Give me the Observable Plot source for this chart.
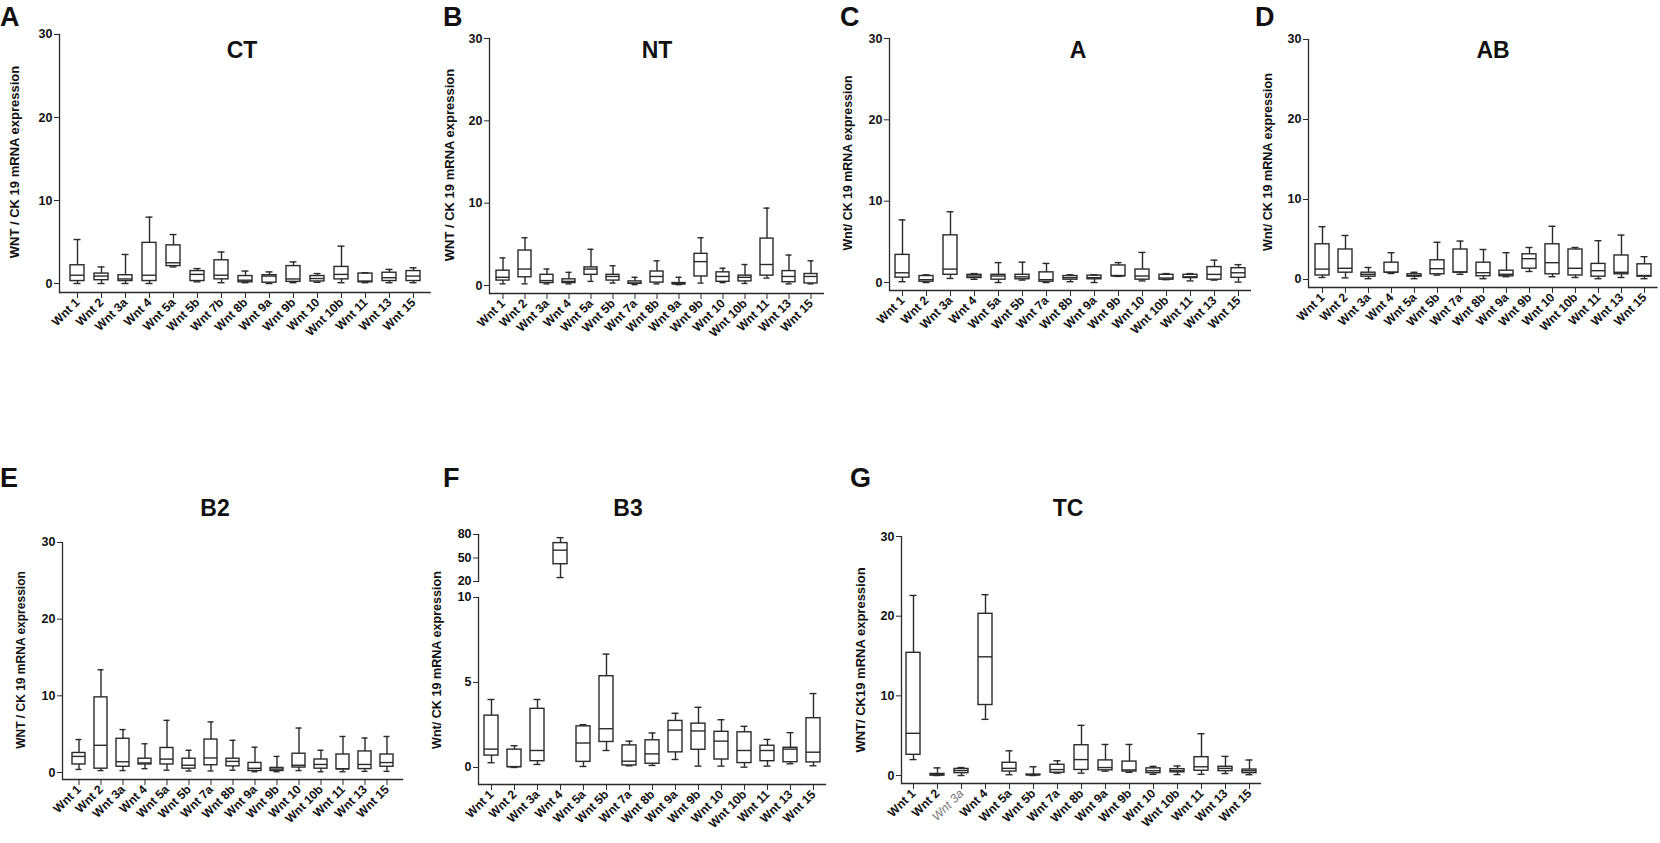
<!DOCTYPE html>
<html><head><meta charset="utf-8">
<script src="https://cdn.jsdelivr.net/npm/d3@7"></script>
<script src="https://cdn.jsdelivr.net/npm/@observablehq/plot@0.6"></script>
<style>
body{margin:0;background:#fff;}
#fig{position:relative;width:1660px;height:843px;overflow:hidden;font-family:"Liberation Sans",Arial,sans-serif;color:#111;}
.letter{position:absolute;font-weight:bold;font-size:27px;line-height:1;}
.title{position:absolute;font-weight:bold;font-size:23px;line-height:1;transform:translate(-50%,-50%);white-space:nowrap;}
.ylab{position:absolute;font-weight:bold;line-height:1;white-space:nowrap;transform:translate(-50%,-50%) rotate(-90deg);}
</style></head><body><div id="fig"></div>
<script>
// ---- data ----
const catsCT = ["Wnt 1","Wnt 2","Wnt 3a","Wnt 4","Wnt 5a","Wnt 5b","Wnt 7b","Wnt 8b","Wnt 9a","Wnt 9b","Wnt 10","Wnt 10b","Wnt 11","Wnt 13","Wnt 15"];
const catsOther = ["Wnt 1","Wnt 2","Wnt 3a","Wnt 4","Wnt 5a","Wnt 5b","Wnt 7a","Wnt 8b","Wnt 9a","Wnt 9b","Wnt 10","Wnt 10b","Wnt 11","Wnt 13","Wnt 15"];
const yTicks = [0,10,20,30];
const yTicksB3Top = [20,50,80];
const yTicksB3Bottom = [0,5,10];
// each row: [min, q1, median, q3, max]
const ctStats = [[0,0.3,1.0,2.2,5.3],[0,0.4,0.9,1.2,2.0],[0,0.3,0.55,1.0,3.5],[0,0.3,1.0,4.9,8.0],[2.0,2.1,2.5,4.6,5.9],[0.2,0.3,1.1,1.5,1.8],[0.1,0.5,1.0,2.8,3.8],[0.1,0.15,0.4,0.9,1.5],[0,0.1,0.9,1.0,1.4],[0.1,0.2,0.55,2.1,2.6],[0.15,0.25,0.6,0.9,1.2],[0.1,0.5,1.1,2.0,4.5],[0.1,0.15,0.3,1.2,1.3],[0.1,0.3,0.7,1.3,1.7],[0.1,0.3,0.9,1.5,1.9]];
const ntStats = [[0.2,0.6,1.0,1.8,3.35],[0.2,1.0,2.0,4.25,5.8],[0.2,0.3,0.6,1.3,2.0],[0.2,0.3,0.5,0.75,1.6],[0.5,1.3,2.0,2.2,4.4],[0.3,0.6,1.1,1.3,2.4],[0.1,0.2,0.3,0.5,1.0],[0.2,0.35,1.1,1.7,3.0],[0.1,0.15,0.2,0.3,1.0],[0.3,1.1,2.9,3.85,5.8],[0.35,0.45,1.1,1.6,2.1],[0.25,0.5,1.0,1.2,2.55],[0.9,1.2,2.55,5.7,9.4],[0.2,0.4,1.1,1.75,3.7],[0.2,0.25,1.1,1.4,3.0]];
const aStats = [[0.1,0.6,1.2,3.4,7.7],[0,0.1,0.35,0.8,0.95],[0.5,0.95,1.65,5.8,8.7],[0.4,0.55,0.8,0.95,1.1],[0,0.35,0.8,0.95,2.45],[0.3,0.4,0.7,0.95,2.5],[0,0.1,0.35,1.25,2.35],[0.1,0.35,0.6,0.8,0.95],[0,0.4,0.6,0.85,0.95],[0.75,0.8,0.8,2.1,2.45],[0.2,0.35,0.8,1.6,3.7],[0.35,0.35,0.55,0.95,1.1],[0.2,0.55,0.7,0.95,1.1],[0.3,0.35,1.0,1.9,2.75],[0.05,0.58,1.2,1.76,2.2]];
const abStats = [[0.25,0.5,1.3,4.4,6.6],[0.2,0.85,1.4,3.75,5.5],[0.1,0.35,0.65,0.85,1.5],[0.75,0.85,0.9,2.1,3.35],[0.1,0.35,0.5,0.65,0.9],[0.55,0.65,1.35,2.4,4.65],[0.65,0.85,0.95,3.75,4.8],[0.1,0.4,0.85,2.1,3.75],[0.35,0.4,0.65,1.1,3.35],[1.0,1.35,2.6,3.15,4.0],[0.35,0.65,2.1,4.4,6.65],[0.25,0.5,1.4,3.75,4.0],[0.1,0.35,1.1,1.95,4.85],[0.25,0.65,0.9,3.0,5.55],[0.1,0.35,0.5,1.9,2.85]];
const b2Stats = [[0.4,1.05,2.1,2.55,4.3],[0.25,0.5,3.55,9.8,13.4],[0.25,0.75,1.4,4.4,5.6],[0.5,1.05,1.25,1.8,3.75],[0.3,1.05,1.75,3.2,6.8],[0.2,0.5,0.95,1.8,2.9],[0.2,0.95,1.9,4.3,6.6],[0.3,0.8,1.45,1.8,4.2],[0.1,0.2,0.55,1.25,3.3],[0.1,0.2,0.45,0.6,2.1],[0.25,0.65,0.95,2.45,5.8],[0.1,0.5,1.05,1.7,2.9],[0.1,0.4,0.5,2.35,4.7],[0.15,0.45,1.05,2.75,4.5],[0.15,0.75,1.3,2.35,4.7]];
const b3Stats = [[0.28,0.7,1.08,3.05,4.0],[0,0.02,0.05,1.05,1.28],[0.18,0.37,1.0,3.45,4.0],[25,42,60,69,76],[0.06,0.33,1.44,2.42,2.52],[1.0,1.5,2.28,5.37,6.67],[0.1,0.12,0.37,1.3,1.55],[0.12,0.22,0.8,1.6,2.03],[0.47,0.89,2.2,2.74,3.19],[0.08,1.04,2.15,2.58,3.54],[0.08,0.47,1.55,2.1,2.81],[0.02,0.26,1.0,2.07,2.42],[0.08,0.37,1.0,1.28,1.65],[0.22,0.31,1.08,1.16,2.05],[0.1,0.3,0.9,2.9,4.35]];
const tcStats = [[2.0,2.6,5.3,15.4,22.6],[0,0,0.1,0.2,0.96],[0,0.3,0.63,0.83,1.0],[7.05,8.85,14.9,20.3,22.7],[0.1,0.5,0.9,1.6,3.1],[0,0.04,0.08,0.12,1.1],[0.3,0.35,0.75,1.35,1.85],[0.3,0.7,2.0,3.8,6.3],[0.55,0.65,1.0,1.9,3.9],[0.4,0.5,0.7,1.75,3.9],[0.15,0.3,0.6,0.9,1.15],[0.12,0.4,0.6,0.8,1.2],[0.15,0.6,1.1,2.3,5.25],[0.25,0.55,0.9,1.1,2.4],[0.1,0.3,0.6,0.75,1.95]];

// ---- layout (page pixels) ----
const panels = [
  {letter:"A", lx:0,   ly:4,   title:"CT", tx:242,  ty:50,  cats:catsCT,    stats:ctStats, ylabel:"WNT / CK 19 mRNA expression", ylx:14,  yly:162, yfs:13,
   axisPx:59,   step:24.7, off:13, segs:[{topPx:34, basePx:292, dom:[-1.08,30], ticks:yTicks, x:true}]},
  {letter:"B", lx:443, ly:4,   title:"NT", tx:657,  ty:50,  cats:catsOther, stats:ntStats, ylabel:"WNT / CK 19 mRNA expression", ylx:449, yly:165, yfs:13,
   axisPx:489,  step:22.5, off:10, segs:[{topPx:38, basePx:293, dom:[-0.97,30], ticks:yTicks, x:true}]},
  {letter:"C", lx:840, ly:4,   title:"A",  tx:1078, ty:50,  cats:catsOther, stats:aStats,  ylabel:"Wnt/ CK 19 mRNA expression",  ylx:848, yly:163, yfs:12.4,
   axisPx:889,  step:24,   off:13, segs:[{topPx:38, basePx:290, dom:[-0.98,30], ticks:yTicks, x:true}]},
  {letter:"D", lx:1255,ly:4,   title:"AB", tx:1493, ty:50,  cats:catsOther, stats:abStats, ylabel:"Wnt/ CK 19 mRNA expression",  ylx:1268,yly:162, yfs:12.6,
   axisPx:1308, step:23.4, off:11, segs:[{topPx:39, basePx:287, dom:[-1,30], ticks:yTicks, x:true}]},
  {letter:"E", lx:0,   ly:465, title:"B2", tx:215,  ty:508, cats:catsOther, stats:b2Stats, ylabel:"WNT / CK 19 mRNA expression", ylx:21,  yly:660, yfs:12,
   axisPx:62,   step:22.8, off:11, segs:[{topPx:542, basePx:779, dom:[-0.91,30], ticks:yTicks, x:true}]},
  {letter:"F", lx:443, ly:465, title:"B3", tx:628,  ty:508, cats:catsOther, stats:b3Stats, ylabel:"Wnt/ CK 19 mRNA expression",  ylx:437, yly:660, yfs:12.6,
   axisPx:478,  step:23.3, off:11, segs:[{topPx:534, basePx:581, dom:[20,80], ticks:yTicksB3Top, x:false, keep:r=>r.min>=20},
                                         {topPx:597, basePx:784, dom:[-1,10], ticks:yTicksB3Bottom, x:true, keep:r=>r.max<=10}]},
  {letter:"G", lx:850, ly:465, title:"TC", tx:1068, ty:508, cats:catsOther, stats:tcStats, ylabel:"WNT/ CK19 mRNA expression",   ylx:860, yly:660, yfs:13,
   axisPx:901,  step:24,   off:12, segs:[{topPx:536, basePx:783, dom:[-1,30], ticks:yTicks, x:true}]}
];

const fig = document.getElementById("fig");
const INK = "#2a2a2a";
const PI = 0.4;

function addDiv(cls, text, left, top, extra) {
  const d = document.createElement("div");
  d.className = cls; d.textContent = text;
  d.style.left = left + "px"; d.style.top = top + "px";
  if (extra) Object.assign(d.style, extra);
  fig.appendChild(d);
  return d;
}

for (const p of panels) {
  const rowsAll = p.cats.map((c, i) => ({cat: c, min: p.stats[i][0], q1: p.stats[i][1], med: p.stats[i][2], q3: p.stats[i][3], max: p.stats[i][4]}));
  const n = p.cats.length;
  const po = p.off / p.step - (1 - PI) / 2;
  const range = p.step * (n - PI + 2 * po);
  for (const s of p.segs) {
    const rows = s.keep ? rowsAll.filter(s.keep) : rowsAll;
    const ml = 40, mr = 4, mt = 8, mb = s.x ? 64 : 0;
    const W = ml + range + mr;
    const H = (s.basePx - s.topPx) + mt + mb;
    const marks = [
      Plot.frame({anchor: "left", stroke: INK, strokeWidth: 1.3}),
      Plot.axisY({ticks: s.ticks, tickSize: 5, tickPadding: 2, label: null, stroke: INK, fill: "#111", fontSize: 12.5}),
      Plot.ruleX(rows, {x: "cat", y1: "min", y2: "max", stroke: INK, strokeWidth: 1.4}),
      Plot.barY(rows, {x: "cat", y1: "q1", y2: "q3", fill: "white", stroke: INK, strokeWidth: 1.4}),
      Plot.tickY(rows, {x: "cat", y: "med", stroke: INK, strokeWidth: 1.4}),
      Plot.tickY(rows, {x: "cat", y: "max", stroke: INK, strokeWidth: 1.4, insetLeft: 3.5, insetRight: 3.5}),
      Plot.tickY(rows, {x: "cat", y: "min", stroke: INK, strokeWidth: 1.4, insetLeft: 3.5, insetRight: 3.5})
    ];
    if (s.x) {
      marks.unshift(Plot.ruleY([s.dom[0]], {stroke: INK, strokeWidth: 1.3}));
      marks.push(Plot.axisX({tickRotate: -45, tickSize: 6, tickPadding: 2, label: null, stroke: INK, fill: "#111", fontSize: 12.2}));
    }
    const svg = Plot.plot({
      width: W, height: H, marginLeft: ml, marginRight: mr, marginTop: mt, marginBottom: mb,
      style: {fontFamily: "'Liberation Sans', Arial, sans-serif", fontSize: "12px", fontWeight: "bold", background: "transparent", overflow: "visible"},
      x: {domain: p.cats, paddingInner: PI, paddingOuter: po, align: 0.5, axis: null},
      y: {domain: s.dom, axis: null},
      marks
    });
    svg.style.position = "absolute";
    svg.style.left = (p.axisPx - ml) + "px";
    svg.style.top = (s.topPx - mt) + "px";
    if (p.letter === "G") {
      svg.querySelectorAll("text").forEach(t => {
        if (t.textContent === "Wnt 3a") { t.setAttribute("fill", "#777"); t.style.fontStyle = "italic"; t.style.fontWeight = "normal"; }
      });
    }
    fig.appendChild(svg);
  }
  addDiv("letter", p.letter, p.lx, p.ly);
  addDiv("title", p.title, p.tx, p.ty);
  addDiv("ylab", p.ylabel, p.ylx, p.yly, {fontSize: p.yfs + "px"});
}
</script>
</body></html>
